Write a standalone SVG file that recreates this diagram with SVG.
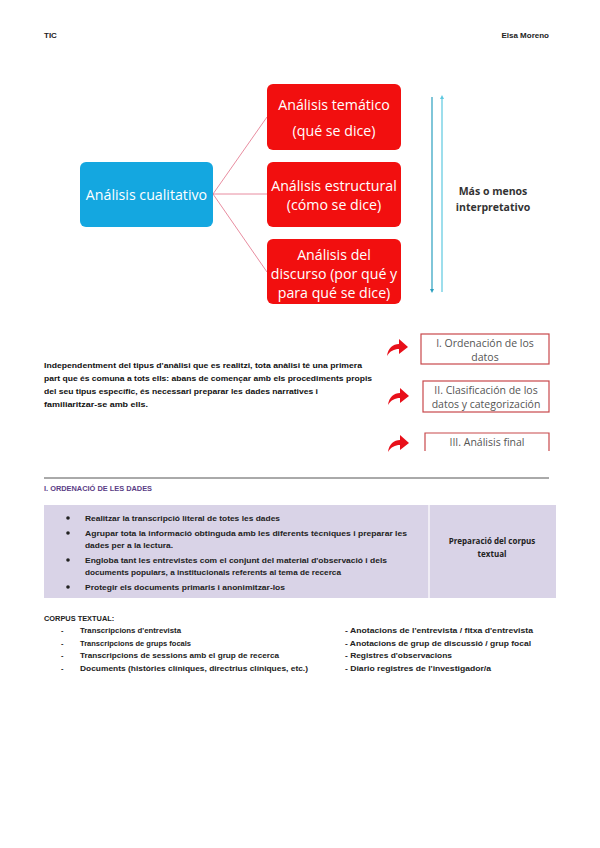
<svg xmlns="http://www.w3.org/2000/svg" width="600" height="848" viewBox="0 0 600 848">
<defs>
<style>
.hdr{font-family:"Liberation Sans",Arial,sans-serif;font-size:8px;font-weight:bold;fill:#222}
.wt{font-family:"Open Sans","Liberation Sans",sans-serif;font-size:14.2px;fill:#fff;text-anchor:middle}
.gt{font-family:"Open Sans","Liberation Sans",sans-serif;font-size:10.5px;fill:#555;text-anchor:middle}
.bt{font-family:"Open Sans","Liberation Sans",sans-serif;font-size:10.5px;font-weight:bold;fill:#333;text-anchor:middle}
.sm{font-family:"Liberation Sans",Arial,sans-serif;font-size:7.6px;font-weight:bold;fill:#111}
.tb{font-family:"Liberation Sans",Arial,sans-serif;font-size:7.4px;font-weight:bold;fill:#222}
.tbc{font-family:"Open Sans","Liberation Sans",sans-serif;font-size:8px;font-weight:bold;fill:#222;text-anchor:middle}
.red{fill:#f20f0f}
.conn{stroke:#e27088;stroke-width:0.8;fill:none}
.sbox{fill:#fff;stroke:#c8484b;stroke-width:1.2}
.rarr{fill:#e8101a}
</style>
<marker id="ah1" markerWidth="4" markerHeight="4" refX="2" refY="2" orient="auto" markerUnits="userSpaceOnUse"><path d="M0,0 L4,2 L0,4 z" fill="#2a9fbf"/></marker>
<marker id="ah2" markerWidth="4" markerHeight="4" refX="2" refY="2" orient="auto" markerUnits="userSpaceOnUse"><path d="M0,0 L4,2 L0,4 z" fill="#5cc8e0"/></marker>
<path id="ra" d="M0,17 C1,9 6,5 12,5 L12,0 L21,8 L12,15 L12,10 C7,10 3,12 0,17 Z"/>
</defs>
<rect width="600" height="848" fill="#fff"/>

<g id="header">
<text class="hdr" x="44" y="38">TIC</text>
<text class="hdr" x="549" y="38" text-anchor="end">Elsa Moreno</text>
</g>

<g id="connectors">
<line class="conn" x1="213" y1="194" x2="267" y2="117"/>
<line class="conn" x1="213" y1="194" x2="267" y2="194"/>
<line class="conn" x1="213" y1="194" x2="267" y2="272"/>
<line x1="432" y1="97" x2="432" y2="291" stroke="#2a9fbf" stroke-width="1.2" marker-end="url(#ah1)"/>
<line x1="442" y1="292" x2="442" y2="97" stroke="#5cc8e0" stroke-width="1.2" marker-end="url(#ah2)"/>
</g>

<g id="n-cualitativo">
<rect x="80" y="162" width="133" height="65" rx="6" fill="#14a7e0"/>
<text class="wt" x="146.5" y="199.5" font-size="14.8">Análisis cualitativo</text>
</g>
<g id="n-tematico">
<rect class="red" x="267" y="84" width="134" height="66" rx="6"/>
<text class="wt" x="334" y="110">Análisis temático</text>
<text class="wt" x="334" y="136">(qué se dice)</text>
</g>
<g id="n-estructural">
<rect class="red" x="267" y="162" width="134" height="65" rx="6"/>
<text class="wt" x="334" y="191">Análisis estructural</text>
<text class="wt" x="334" y="210">(cómo se dice)</text>
</g>
<g id="n-discurso">
<rect class="red" x="267" y="239" width="134" height="65" rx="6"/>
<text class="wt" x="334" y="260">Análisis del</text>
<text class="wt" x="334" y="279">discurso (por qué y</text>
<text class="wt" x="334" y="298">para qué se dice)</text>
</g>
<g id="n-interpretativo">
<text class="bt" x="493" y="195">Más o menos</text>
<text class="bt" x="493" y="211">interpretativo</text>
</g>

<g id="paragraph">
<text class="sm" x="44" y="368" textLength="318" lengthAdjust="spacingAndGlyphs">Independentment del tipus d'anàlisi que es realitzi, tota anàlisi té una primera</text>
<text class="sm" x="44" y="381" textLength="328" lengthAdjust="spacingAndGlyphs">part que és comuna a tots ells: abans de començar amb els procediments propis</text>
<text class="sm" x="44" y="394" textLength="274" lengthAdjust="spacingAndGlyphs">del seu tipus específic, és necessari preparar les dades narratives i</text>
<text class="sm" x="44" y="407" textLength="104" lengthAdjust="spacingAndGlyphs">familiaritzar-se amb ells.</text>
</g>

<g id="steps">
<use href="#ra" class="rarr" x="387" y="339"/>
<use href="#ra" class="rarr" x="388" y="388"/>
<use href="#ra" class="rarr" x="388" y="435"/>
<g id="n-step1">
<rect class="sbox" x="421" y="334" width="128" height="30"/>
<text class="gt" x="485" y="347">I. Ordenación de los</text>
<text class="gt" x="485" y="361">datos</text>
</g>
<g id="n-step2">
<rect class="sbox" x="423" y="381" width="126" height="31"/>
<text class="gt" x="486" y="394">II. Clasificación de los</text>
<text class="gt" x="486" y="408">datos y categorización</text>
</g>
<g id="n-step3">
<path d="M425,451 L425,433 L549,433 L549,451" fill="#fff" stroke="#c8484b" stroke-width="1.2"/>
<text class="gt" x="487" y="446">III. Análisis final</text>
</g>
</g>

<line x1="44" y1="478" x2="549" y2="478" stroke="#555" stroke-width="1"/>
<text x="44" y="491" font-family="Liberation Sans, Arial, sans-serif" font-size="7.4" font-weight="bold" fill="#5a3d86">I. ORDENACIÓ DE LES DADES</text>

<g id="table">
<rect x="44" y="505" width="512" height="93" fill="#d9d3e7"/>
<line x1="429" y1="505" x2="429" y2="598" stroke="#fff" stroke-width="1.2"/>
<g fill="#222">
<circle cx="68" cy="518" r="1.8"/>
<circle cx="68" cy="533" r="1.8"/>
<circle cx="68" cy="560" r="1.8"/>
<circle cx="68" cy="587" r="1.8"/>
</g>
<text class="tb" x="85" y="521" textLength="195" lengthAdjust="spacingAndGlyphs">Realitzar la transcripció literal de totes les dades</text>
<text class="tb" x="85" y="536" textLength="322" lengthAdjust="spacingAndGlyphs">Agrupar tota la informació obtinguda amb les diferents tècniques i preparar les</text>
<text class="tb" x="85" y="548" textLength="88" lengthAdjust="spacingAndGlyphs">dades per a la lectura.</text>
<text class="tb" x="85" y="563" textLength="302" lengthAdjust="spacingAndGlyphs">Engloba tant les entrevistes com el conjunt del material d'observació i dels</text>
<text class="tb" x="85" y="575" textLength="256" lengthAdjust="spacingAndGlyphs">documents populars, a institucionals referents al tema de recerca</text>
<text class="tb" x="85" y="590" textLength="200" lengthAdjust="spacingAndGlyphs">Protegir els documents primaris i anonimitzar-los</text>
<text class="tbc" x="492" y="544">Preparació del corpus</text>
<text class="tbc" x="492" y="557">textual</text>
</g>

<g id="corpus">
<text class="tb" x="44" y="621">CORPUS TEXTUAL:</text>
<g class="tb">
<text x="61" y="633">-</text>
<text x="61" y="646">-</text>
<text x="61" y="658">-</text>
<text x="61" y="671">-</text>
</g>
<text class="tb" x="80" y="633" textLength="101" lengthAdjust="spacingAndGlyphs">Transcripcions d'entrevista</text>
<text class="tb" x="80" y="646" textLength="111" lengthAdjust="spacingAndGlyphs">Transcripcions de grups focals</text>
<text class="tb" x="80" y="658" textLength="199" lengthAdjust="spacingAndGlyphs">Transcripcions de sessions amb el grup de recerca</text>
<text class="tb" x="80" y="671" textLength="228" lengthAdjust="spacingAndGlyphs">Documents (històries clíniques, directrius clíniques, etc.)</text>
<text class="tb" x="345" y="633" textLength="188" lengthAdjust="spacingAndGlyphs">- Anotacions de l'entrevista / fitxa d'entrevista</text>
<text class="tb" x="345" y="646" textLength="186" lengthAdjust="spacingAndGlyphs">- Anotacions de grup de discussió / grup focal</text>
<text class="tb" x="345" y="658" textLength="107" lengthAdjust="spacingAndGlyphs">- Registres d'observacions</text>
<text class="tb" x="345" y="671" textLength="146" lengthAdjust="spacingAndGlyphs">- Diario registres de l'investigador/a</text>
</g>
</svg>
